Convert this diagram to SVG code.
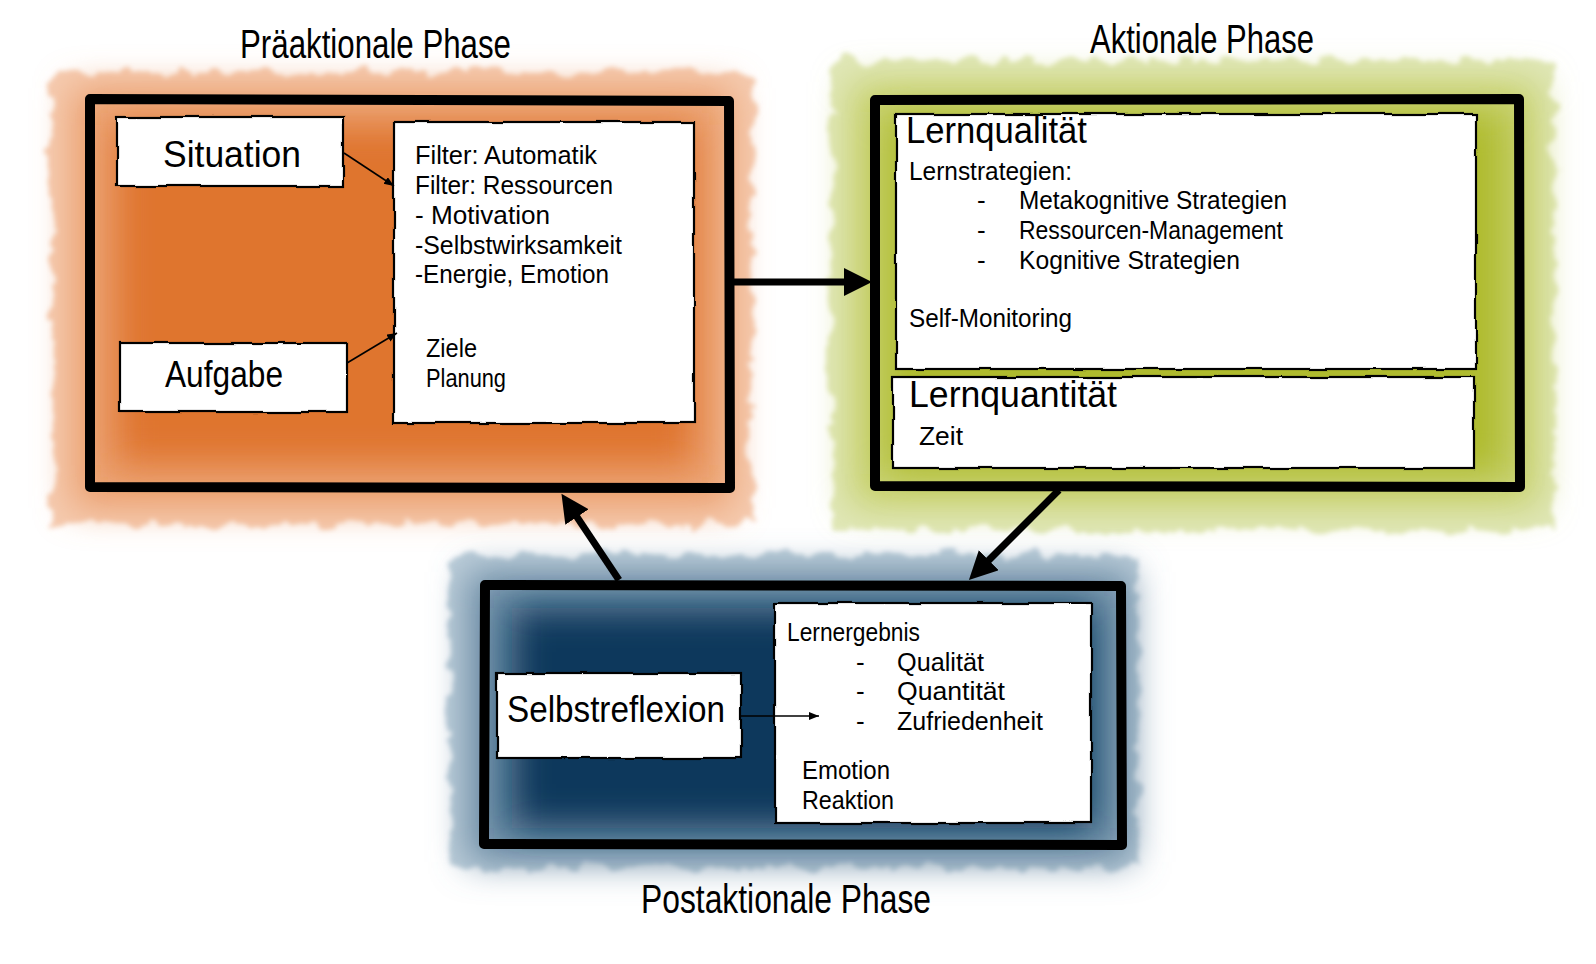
<svg xmlns="http://www.w3.org/2000/svg" width="1596" height="964" viewBox="0 0 1596 964">
<style>
 text{font-family:"Liberation Sans Narrow","Liberation Sans",Arial,sans-serif;fill:#000}
 .title{font-size:40px}
 .big{font-size:37px}
 .txt{font-size:26px}
 .box{fill:#fff;stroke:#000;stroke-width:2.2}
 .frame{fill:none;stroke:#000;stroke-width:10;stroke-linejoin:round;stroke-linecap:round}
 .thick{stroke:#000;stroke-width:7;fill:none}
 .thin{stroke:#000;stroke-width:1.6;fill:none}
</style>
<defs>
 <filter id="rough" x="-10%" y="-10%" width="120%" height="120%">
  <feTurbulence type="fractalNoise" baseFrequency="0.05" numOctaves="3" seed="4"/>
  <feDisplacementMap in="SourceGraphic" scale="22" xChannelSelector="R" yChannelSelector="G"/>
  <feGaussianBlur stdDeviation="2.5"/>
 </filter>
 <filter id="soft" x="-20%" y="-20%" width="140%" height="140%"><feGaussianBlur stdDeviation="18"/></filter>
 <filter id="wobble" x="-5%" y="-5%" width="110%" height="110%">
  <feTurbulence type="fractalNoise" baseFrequency="0.03" numOctaves="2" seed="7"/>
  <feDisplacementMap in="SourceGraphic" scale="4" xChannelSelector="R" yChannelSelector="G"/>
 </filter>
 <marker id="bigHead" markerUnits="userSpaceOnUse" markerWidth="30" markerHeight="30" refX="18" refY="14" orient="auto">
  <path d="M0,0 L28,14 L0,28 Z" fill="#000"/>
 </marker>
 <marker id="smallHead" markerUnits="userSpaceOnUse" markerWidth="12" markerHeight="10" refX="10" refY="4" orient="auto">
  <path d="M0,0 L10,4 L0,8 Z" fill="#000"/>
 </marker>
</defs>
<rect width="1596" height="964" fill="#fff"/>

<!-- Präaktionale Phase -->
<g id="praeaktional">
 <rect x="52" y="72" width="700" height="452" fill="#F5CBB0" filter="url(#rough)"/>
 <rect x="72" y="88" width="660" height="420" fill="#EBA070" filter="url(#soft)"/>
 <rect x="115" y="125" width="580" height="340" fill="#DF742F" filter="url(#soft)"/>
 <path class="frame" d="M90,99 L729,101 L730,488 L90,487 Z"/>
 <text class="title" x="240" y="58" textLength="271" lengthAdjust="spacingAndGlyphs">Präaktionale Phase</text>
</g>
<g id="situation">
 <rect class="box" x="117" y="117" width="226" height="69" filter="url(#wobble)"/>
 <text class="big" x="163" y="167" textLength="138" lengthAdjust="spacingAndGlyphs">Situation</text>
</g>
<g id="aufgabe">
 <rect class="box" x="120" y="343" width="227" height="69" filter="url(#wobble)"/>
 <text class="big" x="165" y="387" textLength="118" lengthAdjust="spacingAndGlyphs">Aufgabe</text>
</g>
<g id="filter">
 <rect class="box" x="394" y="122" width="300" height="301" filter="url(#wobble)"/>
 <text class="txt" x="415" y="164" textLength="182" lengthAdjust="spacingAndGlyphs">Filter: Automatik</text>
 <text class="txt" x="415" y="194" textLength="198" lengthAdjust="spacingAndGlyphs">Filter: Ressourcen</text>
 <text class="txt" x="415" y="224" textLength="135" lengthAdjust="spacingAndGlyphs">- Motivation</text>
 <text class="txt" x="415" y="254" textLength="207" lengthAdjust="spacingAndGlyphs">-Selbstwirksamkeit</text>
 <text class="txt" x="415" y="283" textLength="194" lengthAdjust="spacingAndGlyphs">-Energie, Emotion</text>
 <text class="txt" x="426" y="357" textLength="51" lengthAdjust="spacingAndGlyphs">Ziele</text>
 <text class="txt" x="426" y="387" textLength="80" lengthAdjust="spacingAndGlyphs">Planung</text>
</g>

<!-- Aktionale Phase -->
<g id="aktional">
 <rect x="832" y="60" width="722" height="470" fill="#E0E7B8" filter="url(#rough)"/>
 <rect x="850" y="82" width="690" height="425" fill="#C8D170" filter="url(#soft)"/>
 <rect x="885" y="112" width="620" height="362" fill="#AFBB2E" filter="url(#soft)"/>
 <path class="frame" d="M875,100 L1519,99 L1520,487 L875,486 Z"/>
 <text class="title" x="1090" y="53" textLength="224" lengthAdjust="spacingAndGlyphs">Aktionale Phase</text>
</g>
<g id="lernqualitaet">
 <rect class="box" x="896" y="114" width="580" height="255" filter="url(#wobble)"/>
 <text class="big" x="906" y="143" textLength="181" lengthAdjust="spacingAndGlyphs">Lernqualität</text>
 <text class="txt" x="909" y="180" textLength="163" lengthAdjust="spacingAndGlyphs">Lernstrategien:</text>
 <text class="txt" x="977" y="209">-</text>
 <text class="txt" x="1019" y="209" textLength="268" lengthAdjust="spacingAndGlyphs">Metakognitive Strategien</text>
 <text class="txt" x="977" y="239">-</text>
 <text class="txt" x="1019" y="239" textLength="264" lengthAdjust="spacingAndGlyphs">Ressourcen-Management</text>
 <text class="txt" x="977" y="269">-</text>
 <text class="txt" x="1019" y="269" textLength="221" lengthAdjust="spacingAndGlyphs">Kognitive Strategien</text>
 <text class="txt" x="909" y="327" textLength="163" lengthAdjust="spacingAndGlyphs">Self-Monitoring</text>
</g>
<g id="lernquantitaet">
 <rect class="box" x="893" y="377" width="581" height="91" filter="url(#wobble)"/>
 <text class="big" x="909" y="407" textLength="208" lengthAdjust="spacingAndGlyphs">Lernquantität</text>
 <text class="txt" x="919" y="445" textLength="44" lengthAdjust="spacingAndGlyphs">Zeit</text>
</g>

<!-- Postaktionale Phase -->
<g id="postaktional">
 <rect x="450" y="555" width="688" height="312" fill="#BCCDD9" filter="url(#rough)"/>
 <rect x="468" y="572" width="664" height="290" fill="#6A8BA4" filter="url(#soft)"/>
 <rect x="512" y="608" width="580" height="220" fill="#0A385C" filter="url(#soft)"/>
 <path class="frame" d="M485,585 L1121,586 L1122,845 L484,844 Z"/>
 <text class="title" x="641" y="913" textLength="290" lengthAdjust="spacingAndGlyphs">Postaktionale Phase</text>
</g>
<g id="selbstreflexion">
 <rect class="box" x="497" y="673" width="244" height="85" filter="url(#wobble)"/>
 <text class="big" x="507" y="722" textLength="218" lengthAdjust="spacingAndGlyphs">Selbstreflexion</text>
</g>
<g id="lernergebnis">
 <rect class="box" x="775" y="603" width="316" height="220" filter="url(#wobble)"/>
 <text class="txt" x="787" y="641" textLength="133" lengthAdjust="spacingAndGlyphs">Lernergebnis</text>
 <text class="txt" x="856" y="671">-</text>
 <text class="txt" x="897" y="671" textLength="87" lengthAdjust="spacingAndGlyphs">Qualität</text>
 <text class="txt" x="856" y="700">-</text>
 <text class="txt" x="897" y="700" textLength="108" lengthAdjust="spacingAndGlyphs">Quantität</text>
 <text class="txt" x="856" y="730">-</text>
 <text class="txt" x="897" y="730" textLength="146" lengthAdjust="spacingAndGlyphs">Zufriedenheit</text>
 <text class="txt" x="802" y="779" textLength="88" lengthAdjust="spacingAndGlyphs">Emotion</text>
 <text class="txt" x="802" y="809" textLength="92" lengthAdjust="spacingAndGlyphs">Reaktion</text>
</g>

<!-- Connectors -->
<g id="connectors">
 <line class="thick" x1="734" y1="282" x2="862" y2="282" marker-end="url(#bigHead)"/>
 <line class="thick" x1="1059" y1="490" x2="976" y2="573" marker-end="url(#bigHead)"/>
 <line class="thick" x1="619" y1="580" x2="567" y2="502" marker-end="url(#bigHead)"/>
 <line class="thin" x1="344" y1="153" x2="394" y2="186" marker-end="url(#smallHead)"/>
 <line class="thin" x1="347" y1="363" x2="397" y2="333" marker-end="url(#smallHead)"/>
 <line class="thin" x1="741" y1="716" x2="819" y2="716" marker-end="url(#smallHead)"/>
</g>
</svg>
